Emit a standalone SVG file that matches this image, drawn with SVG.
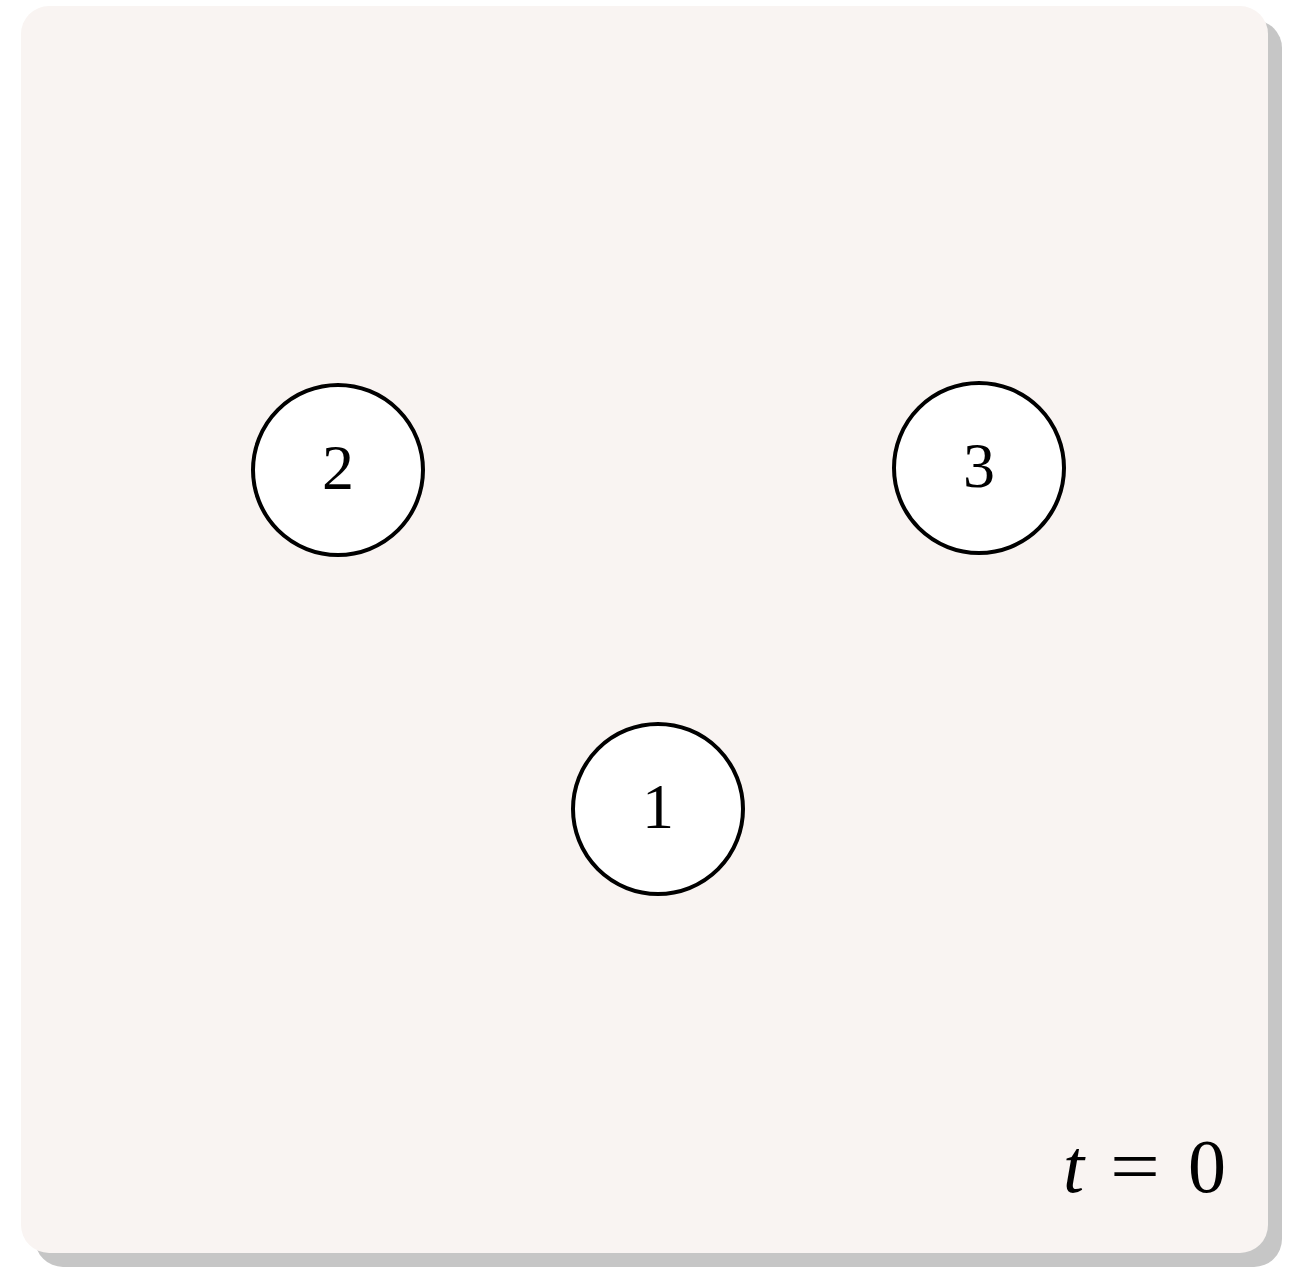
<svg xmlns="http://www.w3.org/2000/svg" width="1299" height="1270" viewBox="0 0 1299 1270">
<style>
.node circle{fill:#ffffff;stroke:#000000;stroke-width:4}
.node text{font-family:"Liberation Serif","DejaVu Serif",serif;font-size:64px;fill:#000;text-anchor:middle}
.lbl{font-family:"Liberation Serif","DejaVu Serif",serif;font-size:76px;fill:#000}
</style>
<rect x="35" y="20" width="1247" height="1247" rx="28" fill="#c6c6c6"/>
<rect x="21" y="6" width="1247" height="1247" rx="28" fill="#f9f4f2"/>
<g id="connectors"></g>
<g id="node2" class="node"><circle cx="338" cy="470" r="85"/><text x="338" y="489">2</text></g>
<g id="node3" class="node"><circle cx="979" cy="468" r="85"/><text x="979" y="487">3</text></g>
<g id="node1" class="node"><circle cx="658" cy="809" r="85"/><text x="658" y="828">1</text></g>
<text class="lbl" x="1226" y="1192" text-anchor="end"><tspan font-style="italic">t</tspan><tspan dx="26" textLength="50" lengthAdjust="spacingAndGlyphs">=</tspan><tspan dx="28">0</tspan></text>
</svg>
